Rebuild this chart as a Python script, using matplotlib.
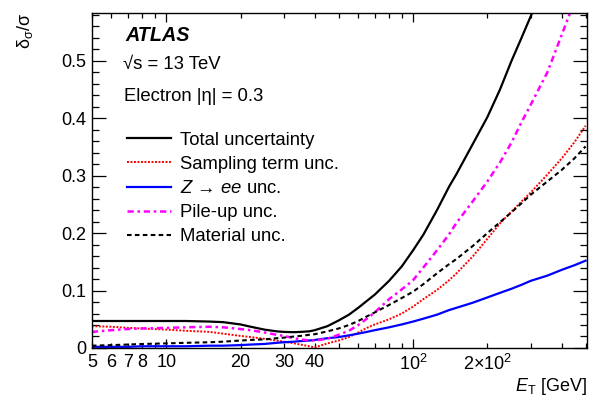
#!/usr/bin/env python3

import numpy as np
import matplotlib
matplotlib.use('Agg')
import matplotlib.pyplot as plt
from matplotlib.lines import Line2D
from matplotlib.ticker import FixedLocator, FixedFormatter, MultipleLocator, FormatStrFormatter

# values (E_T in GeV, relative uncertainty)
et = [5, 6, 7, 8, 10, 12, 15, 17, 20, 22, 25, 28, 30, 33, 35, 38, 40, 45, 50, 55, 60, 65, 70,
      80, 90, 100, 110, 125, 140, 150, 175, 200, 225, 250, 275, 300, 350, 400, 450, 500]

et_total = et[:36] + [320]
total = [0.047, 0.047, 0.047, 0.047, 0.047, 0.047, 0.046, 0.045, 0.041, 0.037, 0.032, 0.029,
         0.028, 0.0275, 0.028, 0.029, 0.031, 0.038, 0.048, 0.058, 0.070, 0.082, 0.093,
         0.117, 0.142, 0.170, 0.197, 0.240, 0.281, 0.303, 0.356, 0.402, 0.450, 0.499, 0.540,
         0.578, 0.610]

sampling = [0.038, 0.037, 0.035, 0.034, 0.032, 0.030, 0.028, 0.025, 0.021, 0.019, 0.016, 0.013,
            0.011, 0.008, 0.006, 0.003, 0.001, 0.008, 0.013, 0.019, 0.027, 0.035, 0.041,
            0.050, 0.060, 0.072, 0.085, 0.101, 0.118, 0.130, 0.160, 0.190, 0.217, 0.237, 0.255,
            0.271, 0.302, 0.330, 0.358, 0.387]

zee = [0.002, 0.002, 0.002, 0.003, 0.003, 0.003, 0.004, 0.004, 0.005, 0.006, 0.007, 0.009,
       0.010, 0.011, 0.012, 0.013, 0.014, 0.017, 0.019, 0.022, 0.025, 0.028, 0.031,
       0.036, 0.041, 0.046, 0.051, 0.058, 0.066, 0.070, 0.079, 0.088, 0.096, 0.103, 0.110,
       0.117, 0.126, 0.136, 0.144, 0.152]

et_pileup = et[:37] + [400, 440]
pileup = [0.028, 0.031, 0.033, 0.034, 0.035, 0.036, 0.037, 0.036, 0.033, 0.031, 0.027, 0.023,
          0.021, 0.017, 0.015, 0.013, 0.013, 0.016, 0.023, 0.030, 0.040, 0.051, 0.062,
          0.085, 0.102, 0.118, 0.140, 0.170, 0.198, 0.218, 0.256, 0.290, 0.323, 0.357, 0.393,
          0.424, 0.480, 0.545, 0.592]

material = [0.004, 0.005, 0.006, 0.007, 0.008, 0.009, 0.010, 0.011, 0.013, 0.014, 0.015, 0.017,
            0.018, 0.020, 0.021, 0.023, 0.024, 0.029, 0.034, 0.040, 0.047, 0.055, 0.062,
            0.075, 0.087, 0.098, 0.111, 0.130, 0.146, 0.155, 0.178, 0.200, 0.219, 0.236, 0.252,
            0.267, 0.290, 0.310, 0.330, 0.351]

xticks_major = [10, 100]
xticks_minor_labelled = [5, 6, 7, 8, 20, 30, 40, 200]

plt.rcParams['font.family'] = ['Liberation Sans', 'DejaVu Sans']
plt.rcParams['mathtext.fontset'] = 'custom'
plt.rcParams['mathtext.rm'] = 'Liberation Sans'
plt.rcParams['mathtext.it'] = 'Liberation Sans:italic'
plt.rcParams['mathtext.bf'] = 'Liberation Sans:bold'

fig = plt.figure(figsize=(5.89, 4.07), dpi=100)
ax = fig.add_axes([0.156, 0.145, 0.84, 0.824])

styles = {
    'total': dict(color='black', lw=1.6, ls='-'),
    'sampling': dict(color='#ff0000', lw=1.4, ls=(0, (1, 0.8))),
    'zee': dict(color='#0000ff', lw=1.6, ls='-'),
    'pileup': dict(color='#ff00ff', lw=1.8, ls=(0, (2.5, 1.5, 1, 1.5))),
    'material': dict(color='black', lw=1.5, ls=(0, (2.2, 1.6))),
}

ax.plot(et_total, total, **styles['total'])
ax.plot(et, sampling, **styles['sampling'])
ax.plot(et, zee, **styles['zee'])
ax.plot(et_pileup, pileup, **styles['pileup'])
ax.plot(et, material, **styles['material'])

ax.set_xscale('log')
ax.set_xlim(5, 505)
ax.set_ylim(0, 0.584)

# x ticks, ROOT like
ax.xaxis.set_major_locator(FixedLocator(xticks_major))
ax.xaxis.set_major_formatter(FixedFormatter(['10', r'$10^{2}$']))
minor = [m * d for d in [1, 10, 100] for m in range(2, 10) if 5 <= m * d <= 500]
ax.xaxis.set_minor_locator(FixedLocator(minor))
ax.xaxis.set_minor_formatter(FixedFormatter(
    [(str(v) if v < 100 else r'$2{\times}10^{2}$') if v in xticks_minor_labelled else '' for v in minor]))

ax.yaxis.set_major_locator(MultipleLocator(0.1))
ax.yaxis.set_minor_locator(MultipleLocator(0.02))
ax.yaxis.set_major_formatter(FormatStrFormatter('%g'))

ax.tick_params(which='both', direction='in', top=True, right=True, labelsize=13, width=0.9)
ax.tick_params(axis='x', which='major', length=6.5, pad=4)
ax.tick_params(axis='x', which='minor', length=3.5, pad=4, labelsize=13)
ax.tick_params(axis='y', which='major', length=10, pad=4)
ax.tick_params(axis='y', which='minor', length=5)
for s in ax.spines.values():
    s.set_linewidth(1.0)

ax.set_xlabel(r'$E_{\mathrm{T}}$ [GeV]', fontsize=13, loc='right', labelpad=2)
ax.set_ylabel(r'$\mathregular{δ_{σ}/σ}$', fontsize=13, loc='top', labelpad=19)

ax.text(0.067, 0.933, 'ATLAS', transform=ax.transAxes, fontsize=14.2,
        fontweight='bold', fontstyle='italic', va='center', ha='left')
ax.text(0.063, 0.844, '√s = 13 TeV', transform=ax.transAxes, fontsize=13.3, va='center', ha='left')
ax.text(0.065, 0.751, 'Electron |η| = 0.3', transform=ax.transAxes, fontsize=13.3, va='center', ha='left')

handles = [Line2D([], [], **styles[k]) for k in ['total', 'sampling', 'zee', 'pileup', 'material']]
labels = ['Total uncertainty', 'Sampling term unc.', r'$Z$ → $ee$ unc.',
          'Pile-up unc.', 'Material unc.']
ax.legend(handles, labels, loc='upper left', bbox_to_anchor=(0.07, 0.645), frameon=False,
          fontsize=13.3, handlelength=2.4, handletextpad=0.5, labelspacing=0.39,
          borderpad=0, borderaxespad=0)

fig.savefig('out.png', dpi=100)
